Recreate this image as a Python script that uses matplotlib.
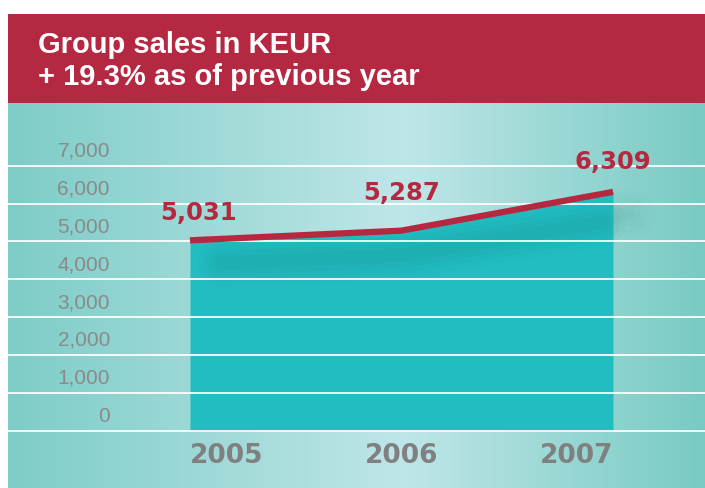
import numpy as np
import matplotlib.pyplot as plt
from matplotlib.colors import LinearSegmentedColormap

years = [2005, 2006, 2007]
sales = [5031, 5287, 6309]
sales_labels = ['5,031', '5,287', '6,309']
yticks = [0, 1000, 2000, 3000, 4000, 5000, 6000, 7000]
ytick_labels = ['0', '1,000', '2,000', '3,000', '4,000', '5,000', '6,000', '7,000']

red = '#B5283F'
teal = '#22BDC1'
grey = '#8A8A8A'

W, H = 705, 488
fig = plt.figure(figsize=(W / 100, H / 100), dpi=100)
fig.patch.set_facecolor('white')

# header band
hdr = fig.add_axes([8 / W, (H - 103) / H, 697 / W, 89 / H])
hdr.set_axis_off()
hdr.add_patch(plt.Rectangle((0, 0), 1, 1, color='#B42841', transform=hdr.transAxes))
hdr.text(30 / 697, 58 / 89, 'Group sales in KEUR', color='white', fontsize=21,
         fontweight='bold', family='Liberation Sans', va='center', transform=hdr.transAxes)
hdr.text(30 / 697, 26 / 89, '+ 19.3% as of previous year', color='white', fontsize=21,
         fontweight='bold', family='Liberation Sans', va='center', transform=hdr.transAxes)

# main panel
ax = fig.add_axes([8 / W, 0, 697 / W, (H - 103) / H])
px_year = (613 - 190) / 2
px_k = 37.9 / 1000
ax.set_xlim(2005 - (190 - 8) / px_year, 2007 + (705 - 613) / px_year)
ax.set_ylim(-(488 - 431) / px_k, (431 - 103) / px_k)
ax.set_axis_off()

# horizontal gradient background
cmap = LinearSegmentedColormap.from_list('bg', [(0, '#7ECDC7'), (0.57, '#BFE6E8'), (1, '#78CBC3')])
grad = np.linspace(0, 1, 256).reshape(1, -1)
ax.imshow(grad, cmap=cmap, aspect='auto', extent=[*ax.get_xlim(), *ax.get_ylim()], zorder=0)

# area
ax.fill_between(years, 0, sales, color=teal, zorder=1, lw=0)

# soft shadow below the line
shadow_x = [2005.15, 2006, 2006.95]
shadow_y = [sales[0] - 600, sales[1] - 650, sales[2] - 800]
for lw, a in [(34, 0.035), (26, 0.045), (18, 0.055), (10, 0.06)]:
    ax.plot(shadow_x, shadow_y, color='#0E7E80', lw=lw, alpha=a,
            solid_capstyle='round', solid_joinstyle='round', zorder=2)
# faint shadow to the right of the area
for lw, a in [(36, 0.025), (26, 0.03), (16, 0.035), (8, 0.04)]:
    ax.plot([2007.02, 2007.08], [5750, 5700], color='#2F7F7C', lw=lw, alpha=a,
            solid_capstyle='round', zorder=0.5)

# gridlines
for v in yticks:
    ax.axhline(v, color='white', lw=1.4, alpha=0.9, zorder=3)

# y labels sitting above their gridlines
for v, lab in zip(yticks, ytick_labels):
    ax.text(2005 - (190 - 110) / px_year, v + 390, lab, ha='right', va='center',
            fontsize=15, color=grey, family='Liberation Sans', zorder=4)

# sales line
ax.plot(years, sales, color=red, lw=4.5, zorder=5, solid_capstyle='butt')

# value labels
offsets = [(0.04, 712), (0.0, 1000), (0.0, 790)]
for x, v, lab, (dx, dy) in zip(years, sales, sales_labels, offsets):
    ax.text(x + dx, v + dy, lab, ha='center', va='center',
            fontsize=17.5, fontweight='bold', color=red, family='DejaVu Sans', zorder=6)

# year labels
aligns = ['left', 'center', 'right']
for x, al in zip(years, aligns):
    ax.text(x, -(456 - 431) / px_k, str(x), ha=al, va='center', fontsize=19,
            fontweight='bold', color='#808080', family='DejaVu Sans', zorder=6)

fig.savefig('out.png', dpi=100)
